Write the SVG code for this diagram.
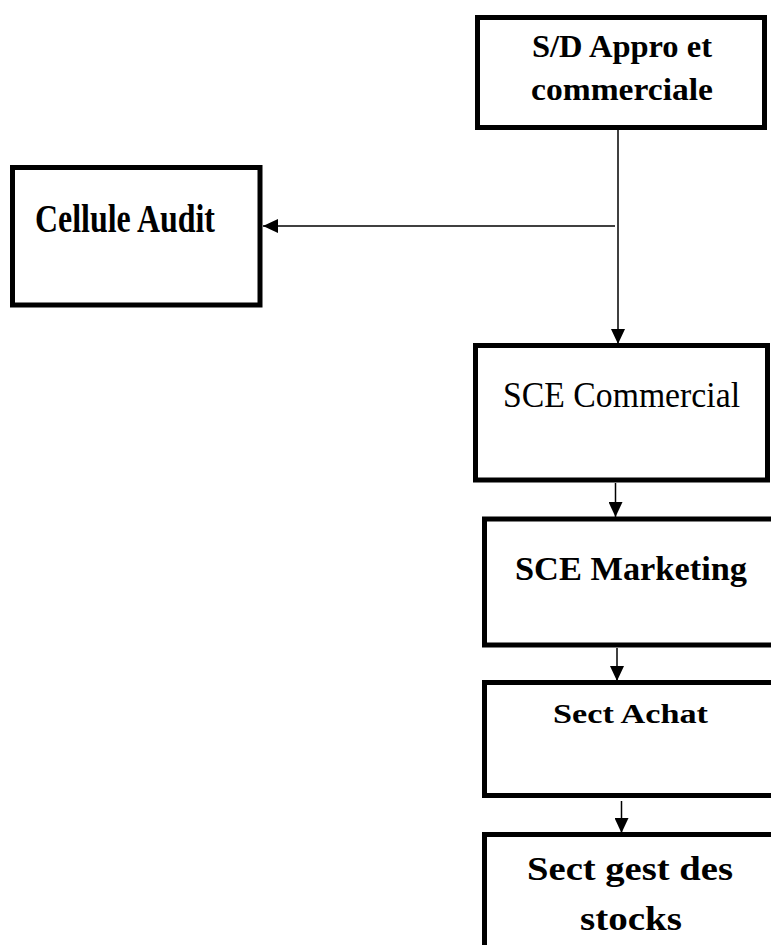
<svg xmlns="http://www.w3.org/2000/svg" width="771" height="945" viewBox="0 0 771 945">
<style>
.box{fill:#fff;stroke:#000;stroke-width:5}
.t{font-family:"Liberation Serif","Times New Roman",serif;fill:#000}
.b{font-weight:bold}
.c{stroke:#000;stroke-width:1.5;fill:none}
</style>
<defs>
<marker id="ah" viewBox="0 0 15 14" refX="15" refY="7" markerWidth="15" markerHeight="14" markerUnits="userSpaceOnUse" orient="auto">
<path d="M0,0 L15,7 L0,14 Z" fill="#000"/>
</marker>
</defs>
<rect width="771" height="945" fill="#fff"/>
<g id="connectors">
<line class="c" x1="618" y1="128" x2="618" y2="344" marker-end="url(#ah)"/>
<line class="c" x1="615" y1="226" x2="263" y2="226" marker-end="url(#ah)"/>
<line class="c" x1="615.5" y1="483" x2="615.5" y2="517" marker-end="url(#ah)"/>
<line class="c" x1="617" y1="648" x2="617" y2="681" marker-end="url(#ah)"/>
<line class="c" x1="621.5" y1="801" x2="621.5" y2="833" marker-end="url(#ah)"/>
</g>
<g id="sd-appro">
<rect class="box" x="477.5" y="17.5" width="287" height="110"/>
<text class="t b" x="532" y="57" font-size="31" textLength="180" lengthAdjust="spacingAndGlyphs">S/D Appro et</text>
<text class="t b" x="531" y="100" font-size="31" textLength="182" lengthAdjust="spacingAndGlyphs">commerciale</text>
</g>
<g id="cellule-audit">
<rect class="box" x="12.5" y="167.5" width="247.5" height="137.5"/>
<text class="t b" x="35" y="232" font-size="40" textLength="180" lengthAdjust="spacingAndGlyphs">Cellule Audit</text>
</g>
<g id="sce-commercial">
<rect class="box" x="475.5" y="345.5" width="292" height="134.5"/>
<text class="t" x="503" y="407" font-size="36" textLength="237" lengthAdjust="spacingAndGlyphs">SCE Commercial</text>
</g>
<g id="sce-marketing">
<rect class="box" x="484.5" y="519" width="300" height="126"/>
<text class="t b" x="515" y="580" font-size="34" textLength="232" lengthAdjust="spacingAndGlyphs">SCE Marketing</text>
</g>
<g id="sect-achat">
<rect class="box" x="484.5" y="682.5" width="300" height="113"/>
<text class="t b" x="553" y="723" font-size="27" textLength="155" lengthAdjust="spacingAndGlyphs">Sect Achat</text>
</g>
<g id="sect-gest-stocks">
<rect class="box" x="484.5" y="834.5" width="300" height="130"/>
<text class="t b" x="527" y="880" font-size="33" textLength="206" lengthAdjust="spacingAndGlyphs">Sect gest des</text>
<text class="t b" x="580" y="930" font-size="33" textLength="102" lengthAdjust="spacingAndGlyphs">stocks</text>
</g>
</svg>
